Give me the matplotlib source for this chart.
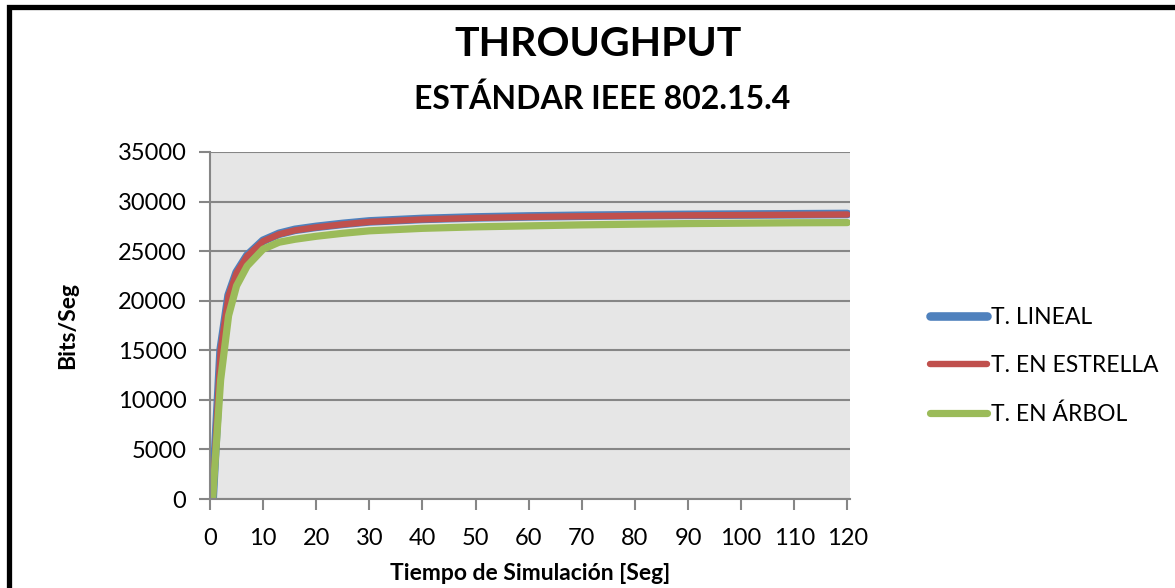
import matplotlib.pyplot as plt
from matplotlib.patches import Rectangle

plt.rcParams['font.family'] = ['Lato', 'DejaVu Sans']

# tiempo de simulacion (s)
tiempo = [0.5, 2, 3.5, 5, 7, 10, 13, 16, 20, 25, 30, 40, 50, 60, 70, 80, 90, 100, 110, 120]
# throughput (bits/s)
lineal = [0, 15050, 20550, 22850, 24550, 26050, 26750, 27150, 27450, 27750, 28000, 28250,
          28400, 28500, 28570, 28620, 28660, 28690, 28720, 28750]
estrella = [0, 15000, 20500, 22800, 24500, 26000, 26700, 27100, 27400, 27700, 27950, 28200,
            28350, 28450, 28520, 28570, 28610, 28640, 28670, 28700]
arbol = [0, 12000, 18500, 21500, 23500, 25200, 25900, 26200, 26500, 26800, 27050, 27300,
         27450, 27550, 27650, 27720, 27780, 27820, 27860, 27880]

series = [
    ("T. LINEAL", lineal, "#4F81BD", 6.2),
    ("T. EN ESTRELLA", estrella, "#C0504D", 4.6),
    ("T. EN ÁRBOL", arbol, "#9BBB59", 5.2),
]

fig = plt.figure(figsize=(11.75, 5.88), dpi=100)
ax = fig.add_axes([210 / 1175, 1 - 499 / 588, 640 / 1175, 347 / 588])
ax.set_facecolor("#E6E6E6")

for nombre, valores, color, lw in series:
    ax.plot(tiempo, valores, color=color, lw=lw, label=nombre,
            solid_capstyle="round", solid_joinstyle="round")

ax.set_xlim(0, 120.5)
ax.set_ylim(0, 35000)
ax.set_xticks(range(0, 121, 10))
ax.set_yticks(range(0, 35001, 5000))
ax.grid(axis="y", color="#868686", lw=1.5)
ax.set_axisbelow(True)
for lado in ["top", "right"]:
    ax.spines[lado].set_visible(False)
for lado in ["left", "bottom"]:
    ax.spines[lado].set_color("#868686")
    ax.spines[lado].set_linewidth(1.5)
ax.tick_params(colors="#868686", labelcolor="black", labelsize=17, length=8, width=1.5)
ax.tick_params(axis="x", pad=13)
ax.tick_params(axis="y", pad=9)

ax.set_xlabel("Tiempo de Simulación [Seg]", fontsize=16.5, fontweight="bold", labelpad=10)
ax.set_ylabel("Bits/Seg", fontsize=16.5, fontweight="bold", labelpad=28)

fig.text(598 / 1175, 1 - 45 / 588, "THROUGHPUT", fontsize=29.5, fontweight="bold",
         ha="center", va="center")
fig.text(602 / 1175, 1 - 99 / 588, "ESTÁNDAR IEEE 802.15.4", fontsize=23, fontweight="bold",
         ha="center", va="center")

fig.legend(loc="center left", bbox_to_anchor=(930 / 1175, 1 - 366 / 588), frameon=False,
           fontsize=16.5, handlelength=2.5, handletextpad=0.15, labelspacing=1.2,
           borderpad=0, borderaxespad=0)

# marco negro del grafico
fig.patches.append(Rectangle((9 / 1175, -0.1), 1.2, 1 - 7.5 / 588 + 0.1,
                             transform=fig.transFigure, fill=False, ec="black", lw=3.8))

fig.savefig("out.png", dpi=100)
